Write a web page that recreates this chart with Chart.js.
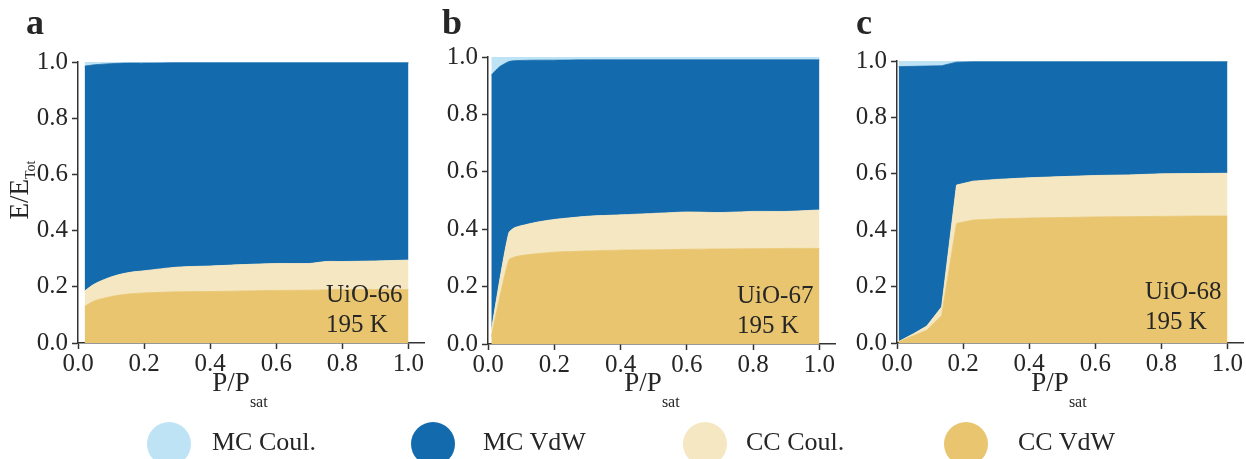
<!DOCTYPE html>
<html>
<head>
<meta charset="utf-8">
<script src="https://cdn.jsdelivr.net/npm/chart.js@4.4.0/dist/chart.umd.min.js"></script>
<style>
  body { margin: 0; background: #fff; }
  #fig { position: relative; width: 1246px; height: 459px; overflow: hidden;
         font-family: 'Liberation Serif', serif; color: #262626; }
  .panel { position: absolute; top: 0; }
  .txt { position: absolute; line-height: 1; white-space: nowrap; }
  .letter { font-size: 36px; font-weight: bold; top: 4px; }
  .note { font-size: 25px; line-height: 30px; }
  .xt { font-size: 27px; top: 369px; transform: translateX(-50%); }
  .sub { position: relative; }
  .yt { font-size: 27px; left: 19px; top: 190px; transform: translate(-50%, -50%) rotate(-90deg); }
  .dot { position: absolute; width: 44px; height: 44px; border-radius: 50%; top: 422px; }
  .leg { font-size: 26px; top: 429px; }
</style>
</head>
<body>
<div id="fig">
  <div class="panel" style="left:0px"><canvas id="cA" width="425" height="410"></canvas></div>
  <div class="panel" style="left:420px"><canvas id="cB" width="416" height="410"></canvas></div>
  <div class="panel" style="left:830px"><canvas id="cC" width="414" height="410"></canvas></div>

  <div class="txt letter" style="left:26px">a</div>
  <div class="txt letter" style="left:442px">b</div>
  <div class="txt letter" style="left:856px">c</div>

  <div class="txt note" style="left:326px;top:279px">UiO-66<br>195 K</div>
  <div class="txt note" style="left:737px;top:280px">UiO-67<br>195 K</div>
  <div class="txt note" style="left:1145px;top:276px">UiO-68<br>195 K</div>

  <div class="txt yt">E/E<span class="sub" style="font-size:14px;top:7px">Tot</span></div>
  <div class="txt xt" style="left:240px">P/P<span class="sub" style="font-size:16px;top:16px">sat</span></div>
  <div class="txt xt" style="left:652px">P/P<span class="sub" style="font-size:16px;top:16px">sat</span></div>
  <div class="txt xt" style="left:1059px">P/P<span class="sub" style="font-size:16px;top:16px">sat</span></div>

  <div id="legend"></div>
</div>
<script>
// --- DATA ---
const seriesNames = ['MC Coul.', 'MC VdW', 'CC Coul.', 'CC VdW'];
const seriesColors = ['#bee3f5', '#136aac', '#f5e7c1', '#e9c56f'];
const tickLabels = ['0.0', '0.2', '0.4', '0.6', '0.8', '1.0'];

// UiO-66
const pressureA = [0.02, 0.05, 0.1, 0.15, 0.2, 0.3, 0.4, 0.5, 0.6, 0.7, 0.75, 0.8, 0.9, 1.0];
const ccVdwA  = [0.13, 0.15, 0.165, 0.174, 0.178, 0.182, 0.183, 0.185, 0.187, 0.188, 0.189, 0.19, 0.19, 0.19];
const ccCoulA = [0.055, 0.06, 0.07, 0.076, 0.079, 0.088, 0.091, 0.094, 0.096, 0.095, 0.101, 0.10, 0.102, 0.105];
const mcVdwA  = [0.80, 0.78, 0.759, 0.746, 0.739, 0.727, 0.723, 0.718, 0.714, 0.714, 0.707, 0.707, 0.705, 0.702];
const mcCoulA = [0.015, 0.01, 0.006, 0.004, 0.004, 0.003, 0.003, 0.003, 0.003, 0.003, 0.003, 0.003, 0.003, 0.003];

// UiO-67
const pressureB = [0.01, 0.035, 0.063, 0.08, 0.1, 0.15, 0.2, 0.3, 0.4, 0.5, 0.6, 0.7, 0.8, 0.9, 1.0];
const ccVdwB  = [0.025, 0.16, 0.293, 0.303, 0.308, 0.315, 0.32, 0.324, 0.327, 0.328, 0.33, 0.331, 0.332, 0.333, 0.333];
const ccCoulB = [0.02, 0.06, 0.095, 0.102, 0.104, 0.11, 0.114, 0.121, 0.123, 0.127, 0.13, 0.127, 0.13, 0.129, 0.134];
const mcVdwB  = [0.892, 0.746, 0.596, 0.582, 0.576, 0.564, 0.555, 0.545, 0.54, 0.535, 0.53, 0.532, 0.528, 0.528, 0.523];
const mcCoulB = [0.063, 0.034, 0.016, 0.013, 0.012, 0.011, 0.011, 0.01, 0.01, 0.01, 0.01, 0.01, 0.01, 0.01, 0.01];

// UiO-68
const pressureC = [0.005, 0.05, 0.09, 0.135, 0.18, 0.23, 0.3, 0.4, 0.5, 0.6, 0.7, 0.8, 0.9, 1.0];
const ccVdwC  = [0.004, 0.026, 0.045, 0.097, 0.424, 0.436, 0.44, 0.443, 0.445, 0.447, 0.448, 0.449, 0.45, 0.45];
const ccCoulC = [0.001, 0.007, 0.015, 0.031, 0.136, 0.138, 0.14, 0.143, 0.145, 0.147, 0.148, 0.151, 0.151, 0.152];
const mcVdwC  = [0.975, 0.948, 0.922, 0.855, 0.436, 0.423, 0.417, 0.411, 0.407, 0.403, 0.401, 0.397, 0.396, 0.395];
const mcCoulC = [0.02, 0.019, 0.018, 0.017, 0.004, 0.003, 0.003, 0.003, 0.003, 0.003, 0.003, 0.003, 0.003, 0.003];

// --- CHART ---
const axisColor = '#333333';
const tickFont = { family: 'Liberation Serif', size: 25 };

function axis(extra, pad, fitFn) {
    return Object.assign({
        type: 'linear',
        ticks: {
            stepSize: 0.2,
            includeBounds: false,
            autoSkip: false,
            maxRotation: 0,
            color: '#262626',
            font: tickFont,
            padding: pad,
            callback: (v) => tickLabels[Math.round(v / 0.2)]
        },
        grid: { drawOnChartArea: false, drawTicks: true, tickLength: 6, tickWidth: 1.5, tickColor: axisColor },
        border: { display: true, color: axisColor, width: 1.5 },
        afterFit: fitFn
    }, extra);
}

function drawPanel(id, pressure, series, yWidth, xHeight, topPad, tension) {
    // series listed bottom to top: CC VdW, CC Coul., MC VdW, MC Coul.
    const order = [3, 2, 1, 0];
    const datasets = series.map((vals, k) => ({
        label: seriesNames[order[k]],
        data: pressure.map((p, i) => ({ x: p, y: vals[i] })),
        backgroundColor: seriesColors[order[k]],
        borderColor: seriesColors[order[k]],
        borderWidth: 0.8,
        pointRadius: 0,
        tension: tension,
        fill: k === 0 ? 'origin' : '-1'
    }));
    new Chart(document.getElementById(id), {
        type: 'line',
        data: { datasets },
        options: {
            responsive: false,
            animation: false,
            layout: { padding: { top: topPad, left: 0, right: 0, bottom: 0 } },
            plugins: { legend: { display: false }, tooltip: { enabled: false } },
            scales: {
                x: axis({ min: 0, max: 1.05 }, 0, (s) => { s.height = xHeight; }),
                y: axis({ min: 0, max: 1, stacked: true }, 4, (s) => { s.width = yWidth; })
            }
        }
    });
}

drawPanel('cA', pressureA, [ccVdwA, ccCoulA, mcVdwA, mcCoulA], 78, 67, 62, 0.3);
drawPanel('cB', pressureB, [ccVdwB, ccCoulB, mcVdwB, mcCoulB], 68, 66, 57, 0.2);
drawPanel('cC', pressureC, [ccVdwC, ccCoulC, mcVdwC, mcCoulC], 67, 67, 61, 0);

// --- LEGEND ---
const legend = document.getElementById('legend');
const dotCenters = [169, 433, 705, 966];
const textStarts = [212, 483, 746, 1018];
seriesNames.forEach((name, i) => {
    const dot = document.createElement('div');
    dot.className = 'dot';
    dot.style.left = (dotCenters[i] - 22) + 'px';
    dot.style.background = seriesColors[i];
    legend.appendChild(dot);
    const t = document.createElement('div');
    t.className = 'txt leg';
    t.style.left = textStarts[i] + 'px';
    t.textContent = name;
    legend.appendChild(t);
});
</script>
</body>
</html>
